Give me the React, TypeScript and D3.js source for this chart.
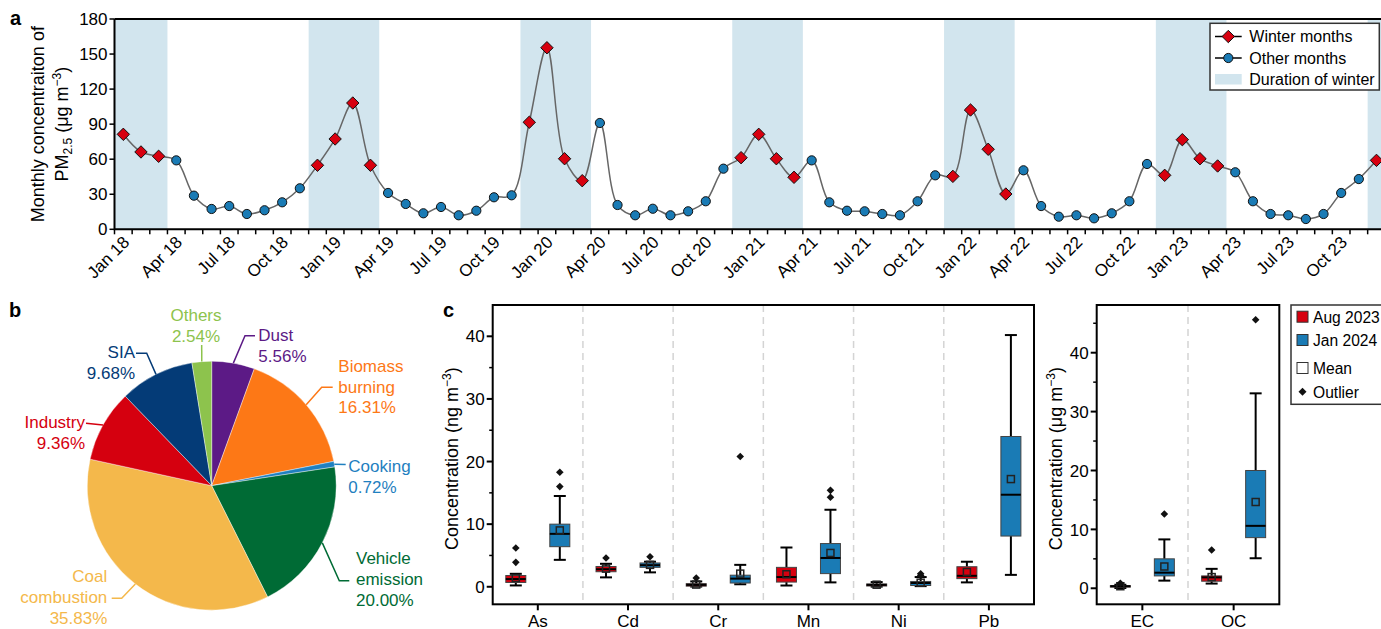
import * as d3 from "d3";

const FONT = "'Liberation Sans', Arial, Helvetica, sans-serif";

// ---------- panel a: monthly PM2.5 ----------
const monthNames = ["Jan", "Feb", "Mar", "Apr", "May", "Jun", "Jul", "Aug", "Sep", "Oct", "Nov", "Dec"];
const yearLabels = ["18", "19", "20", "21", "22", "23"];
const winterMonths = ["Dec", "Jan", "Feb", "Mar"];
const labelMonths = ["Jan", "Apr", "Jul", "Oct"];
const pm25 = [
  81.3, 66.2, 62.5, 59.0, 28.8, 17.4, 19.9, 13.1, 16.3, 23.1, 35.1, 54.8,
  77.3, 108.1, 54.8, 31.1, 21.7, 13.7, 19.1, 12.0, 15.9, 27.4, 29.1, 91.6,
  155.4, 60.4, 41.6, 91.0, 20.8, 12.0, 17.6, 12.0, 15.4, 24.0, 51.9, 61.3,
  81.3, 60.4, 44.5, 59.0, 23.1, 15.9, 15.4, 13.1, 12.0, 24.0, 46.2, 45.3,
  102.1, 68.5, 30.2, 50.5, 19.9, 10.8, 12.0, 9.4, 13.7, 24.0, 55.9, 46.2,
  76.7, 60.4, 54.2, 48.8, 24.0, 13.1, 12.0, 8.8, 13.1, 31.1, 43.0, 59.0,
];
const pmTicks = [0, 30, 60, 90, 120, 150, 180];

// ---------- panel b: source apportionment ----------
const sourceNames = ["Dust", "Biomass burning", "Cooking", "Vehicle emission", "Coal combustion", "Industry", "SIA", "Others"];
const sourceShares = [5.56, 16.31, 0.72, 20.0, 35.83, 9.36, 9.68, 2.54];
const sourceColors = ["#5c1a86", "#fd7816", "#1f80c0", "#006b35", "#f4b84b", "#d5000f", "#043b77", "#8dc34d"];

// ---------- panel c: box plots ----------
const metalCats = ["As", "Cd", "Cr", "Mn", "Ni", "Pb"];
const metalsAug = [
  { lo: 0.21, q1: 0.69, med: 1.23, q3: 1.8, hi: 2.07, mean: 1.4, out: [3.9, 6.2] },
  { lo: 1.5, q1: 2.4, med: 2.8, q3: 3.24, hi: 3.67, mean: 2.9, out: [4.6] },
  { lo: 0.03, q1: 0.1, med: 0.3, q3: 0.5, hi: 0.85, mean: 0.35, out: [1.4] },
  { lo: 0.2, q1: 0.75, med: 1.55, q3: 3.1, hi: 6.27, mean: 2.0, out: [] },
  { lo: 0.02, q1: 0.12, med: 0.3, q3: 0.45, hi: 0.75, mean: 0.33, out: [] },
  { lo: 0.7, q1: 1.3, med: 1.75, q3: 3.2, hi: 4.0, mean: 2.35, out: [] },
];
const metalsJan = [
  { lo: 4.3, q1: 6.4, med: 8.45, q3: 10.0, hi: 14.5, mean: 9.0, out: [16.0, 18.3] },
  { lo: 2.3, q1: 3.1, med: 3.45, q3: 3.8, hi: 4.0, mean: 3.5, out: [4.8] },
  { lo: 0.4, q1: 0.6, med: 1.3, q3: 1.85, hi: 3.5, mean: 2.1, out: [20.8] },
  { lo: 0.7, q1: 2.1, med: 4.6, q3: 6.9, hi: 12.3, mean: 5.4, out: [14.3, 15.4] },
  { lo: 0.1, q1: 0.2, med: 0.6, q3: 0.85, hi: 1.55, mean: 0.65, out: [1.8, 2.07] },
  { lo: 1.9, q1: 8.1, med: 14.7, q3: 24.0, hi: 40.2, mean: 17.2, out: [] },
];
const carbonCats = ["EC", "OC"];
const carbonAug = [
  { lo: 0.05, q1: 0.2, med: 0.35, q3: 0.45, hi: 0.6, mean: 0.35, out: [0.85] },
  { lo: 0.8, q1: 1.2, med: 1.85, q3: 2.1, hi: 3.3, mean: 1.9, out: [6.5] },
];
const carbonJan = [
  { lo: 1.3, q1: 2.1, med: 2.65, q3: 5.0, hi: 8.3, mean: 3.7, out: [12.6] },
  { lo: 5.1, q1: 8.6, med: 10.6, q3: 20.0, hi: 33.1, mean: 14.65, out: [45.6] },
];
const RED = "#d7000f";
const BLUE = "#1a7bb5";
const WINTER_BG = "#d2e5ee";

const months = yearLabels.flatMap((y) => monthNames.map((m) => `${m} ${y}`));
const isWinter = (i: number) => winterMonths.includes(months[i].split(" ")[0]);

const winterRuns: number[][] = [];
months.forEach((_, i) => {
  if (!isWinter(i)) return;
  const last = winterRuns[winterRuns.length - 1];
  if (last && last[1] === i - 1) last[1] = i;
  else winterRuns.push([i, i]);
});

const diamond = (cx: number, cy: number, s: number) =>
  `M${cx},${cy - s}L${cx + s},${cy}L${cx},${cy + s}L${cx - s},${cy}Z`;

function PanelA() {
  const L = 114.5, R = 1385.3, T = 19, B = 229.3;
  const x = d3.scaleLinear().domain([-0.5, pm25.length - 0.5]).range([L, R]);
  const y = d3.scaleLinear().domain([0, 180]).range([B, T]);
  const line = d3
    .line<number>()
    .x((_, i) => x(i))
    .y((d) => y(d))
    .curve(d3.curveCatmullRom.alpha(0.5));

  return (
    <g>
      <text x={10} y={25} fontSize={20} fontWeight="bold">a</text>
      {winterRuns.map(([a, b]) => (
        <rect key={a} x={x(a - 0.5)} y={T} width={x(b + 0.5) - x(a - 0.5)} height={B - T} fill={WINTER_BG} />
      ))}
      <path d={line(pm25) || ""} fill="none" stroke="#666" strokeWidth={1.5} />
      {pm25.map((v, i) =>
        isWinter(i) ? (
          <path key={i} d={diamond(x(i), y(v), 6.2)} fill={RED} stroke="#111" strokeWidth={1} />
        ) : (
          <circle key={i} cx={x(i)} cy={y(v)} r={4.6} fill={BLUE} stroke="#111" strokeWidth={1} />
        )
      )}
      {/* axes */}
      {d3.range(0, pm25.length + 1).map((k) => (
        <line key={k} x1={x(k - 0.5)} x2={x(k - 0.5)} y1={B} y2={B + 5} stroke="#000" strokeWidth={1.5} />
      ))}
      {months.map((m, i) =>
        labelMonths.includes(m.split(" ")[0]) ? (
          <text
            key={m}
            transform={`translate(${x(i) + 7},${B + 14}) rotate(-45)`}
            textAnchor="end"
            fontSize={17}
          >
            {m}
          </text>
        ) : null
      )}
      {pmTicks.map((t) => (
        <g key={t}>
          <line x1={L - 5} x2={L} y1={y(t)} y2={y(t)} stroke="#000" strokeWidth={1.5} />
          <text x={L - 7} y={y(t)} dy="0.36em" textAnchor="end" fontSize={17}>{t}</text>
        </g>
      ))}
      <path d={`M${L},${T}V${B}H${R}M${L},${T}H${R}`} fill="none" stroke="#000" strokeWidth={2} />
      <text transform={`translate(43.5,${(T + B) / 2}) rotate(-90)`} textAnchor="middle" fontSize={18}>
        Monthly concentraiton of
      </text>
      <text transform={`translate(68,${(T + B) / 2}) rotate(-90)`} textAnchor="middle" fontSize={18}>
        PM<tspan dy={4} fontSize={12}>2.5</tspan>
        <tspan dy={-4}> (μg m</tspan>
        <tspan dy={-7} fontSize={12}>−3</tspan>
        <tspan dy={7}>)</tspan>
      </text>
      {/* legend */}
      <rect x={1210} y={23.3} width={169.3} height={66.7} fill="#fff" stroke="#333" strokeWidth={1.5} />
      <line x1={1215} x2={1241.7} y1={36.5} y2={36.5} stroke="#000" strokeWidth={1.5} />
      <path d={diamond(1228.3, 36.5, 6.2)} fill={RED} stroke="#111" strokeWidth={1} />
      <text x={1249.3} y={42} fontSize={16}>Winter months</text>
      <line x1={1215} x2={1241.7} y1={58} y2={58} stroke="#000" strokeWidth={1.5} />
      <circle cx={1228.3} cy={58} r={4.6} fill={BLUE} stroke="#111" strokeWidth={1} />
      <text x={1249.3} y={63.5} fontSize={16}>Other months</text>
      <rect x={1215} y={74} width={26.7} height={10.5} fill={WINTER_BG} />
      <text x={1249.3} y={84.5} fontSize={16}>Duration of winter</text>
    </g>
  );
}

const pieLayout = [
  { path: [[245, 335.7], [255, 335.7]], anchor: "start", tx: 258.3, ty: 341 },
  { path: [[321.7, 387.3], [332.7, 387.3]], anchor: "start", tx: 338.3, ty: 371.7 },
  { path: [[345.7, 464.5]], anchor: "start", tx: 348.3, ty: 471.7 },
  { path: [[339.3, 580.7], [349.3, 580.7]], anchor: "start", tx: 356, ty: 564 },
  { path: [[121.7, 598.3], [111.7, 598.3]], anchor: "end", tx: 107.3, ty: 582.3 },
  { path: [[86, 423.3]], anchor: "end", tx: 85, ty: 427.7 },
  { path: [[146.7, 353.3], [136, 353.3]], anchor: "end", tx: 135, ty: 358.3 },
  { path: [[201.7, 345]], anchor: "middle", tx: 196, ty: 320.7 },
];

function PanelB() {
  const cx = 211.7, cy = 485.7, r = 124.5;
  const arcs = d3.pie<number>().sort(null).value((d) => d)(sourceShares);
  const arc = d3.arc<d3.PieArcDatum<number>>().innerRadius(0).outerRadius(r);
  return (
    <g>
      <text x={9} y={316.7} fontSize={20} fontWeight="bold">b</text>
      <g transform={`translate(${cx},${cy})`}>
        {arcs.map((a, i) => (
          <path key={i} d={arc(a) || ""} fill={sourceColors[i]} stroke="#fff" strokeWidth={0.4} />
        ))}
      </g>
      {arcs.map((a, i) => {
        const mid = (a.startAngle + a.endAngle) / 2;
        const ex = cx + r * Math.sin(mid);
        const ey = cy - r * Math.cos(mid);
        const lay = pieLayout[i];
        const pts = [[ex, ey], ...lay.path];
        const lines = [...sourceNames[i].split(" "), sourceShares[i].toFixed(2) + "%"];
        return (
          <g key={i}>
            <polyline points={pts.map((p) => p.join(",")).join(" ")} fill="none" stroke={sourceColors[i]} strokeWidth={1.5} />
            {lines.map((t, j) => (
              <text
                key={j}
                x={lay.tx}
                y={lay.ty + j * 20.8}
                textAnchor={lay.anchor as any}
                fontSize={17}
                fill={sourceColors[i]}
              >
                {t}
              </text>
            ))}
          </g>
        );
      })}
    </g>
  );
}

type Box = { lo: number; q1: number; med: number; q3: number; hi: number; mean: number; out: number[] };

function BoxPanel(props: {
  cats: string[];
  aug: Box[];
  jan: Box[];
  x0: number;
  x1: number;
  yDomain: [number, number];
  minor: number[];
  titleX: number;
  unit: string;
}) {
  const { cats, aug, jan, x0, x1, yDomain, minor, titleX, unit } = props;
  const T = 305, B = 604.3;
  const x = d3.scaleBand().domain(cats).range([x0, x1]);
  const y = d3.scaleLinear().domain(yDomain).range([B, T]);
  const bw = 20, cap = 12, off = 22;
  const majors = [0, 10, 20, 30, 40];

  const drawBox = (b: Box, cxp: number, fill: string, key: string) => (
    <g key={key}>
      <line x1={cxp} x2={cxp} y1={y(b.hi)} y2={y(b.q3)} stroke="#000" strokeWidth={2} />
      <line x1={cxp} x2={cxp} y1={y(b.q1)} y2={y(b.lo)} stroke="#000" strokeWidth={2} />
      <line x1={cxp - cap / 2} x2={cxp + cap / 2} y1={y(b.hi)} y2={y(b.hi)} stroke="#000" strokeWidth={2} />
      <line x1={cxp - cap / 2} x2={cxp + cap / 2} y1={y(b.lo)} y2={y(b.lo)} stroke="#000" strokeWidth={2} />
      <rect x={cxp - bw / 2} y={y(b.q3)} width={bw} height={Math.max(y(b.q1) - y(b.q3), 1)} fill={fill} stroke="#444" strokeWidth={1} />
      <line x1={cxp - bw / 2} x2={cxp + bw / 2} y1={y(b.med)} y2={y(b.med)} stroke="#000" strokeWidth={2} />
      <rect x={cxp - 3.5} y={y(b.mean) - 3.5} width={7} height={7} fill="none" stroke="#222" strokeWidth={1.5} />
      {b.out.map((o, k) => (
        <path key={k} d={diamond(cxp, y(o), 3.8)} fill="#111" />
      ))}
    </g>
  );

  return (
    <g>
      {cats.slice(1).map((c) => (
        <line key={c} x1={x(c)!} x2={x(c)!} y1={T} y2={B} stroke="#d4d4d4" strokeWidth={1.5} strokeDasharray="7,5" />
      ))}
      {cats.map((c, i) => {
        const cc = x(c)! + x.bandwidth() / 2;
        return (
          <g key={c}>
            {drawBox(aug[i], cc - off, RED, "a")}
            {drawBox(jan[i], cc + off, BLUE, "j")}
            <line x1={cc} x2={cc} y1={B} y2={B + 6} stroke="#000" strokeWidth={2} />
            <text x={cc} y={626.5} textAnchor="middle" fontSize={17}>{c}</text>
          </g>
        );
      })}
      {majors.map((t) => (
        <g key={t}>
          <line x1={x0 - 6} x2={x0} y1={y(t)} y2={y(t)} stroke="#000" strokeWidth={2} />
          <text x={x0 - 8} y={y(t)} dy="0.36em" textAnchor="end" fontSize={17}>{t}</text>
        </g>
      ))}
      {minor.map((t) => (
        <line key={t} x1={x0 - 3.5} x2={x0} y1={y(t)} y2={y(t)} stroke="#000" strokeWidth={1.5} />
      ))}
      <rect x={x0} y={T} width={x1 - x0} height={B - T} fill="none" stroke="#000" strokeWidth={2} />
      <text transform={`translate(${titleX},${(T + B) / 2 + 4}) rotate(-90)`} textAnchor="middle" fontSize={18}>
        Concentration ({unit} m<tspan dy={-7} fontSize={12}>−3</tspan>
        <tspan dy={7}>)</tspan>
      </text>
    </g>
  );
}

function LegendC() {
  return (
    <g fontSize={15.6}>
      <rect x={1291} y={305} width={100} height={99.3} fill="#fff" stroke="#333" strokeWidth={1.5} />
      <rect x={1297} y={311.2} width={11} height={11} fill={RED} stroke="#333" strokeWidth={1} />
      <text x={1313} y={322.5}>Aug 2023</text>
      <rect x={1297} y={334.5} width={11} height={11} fill={BLUE} stroke="#333" strokeWidth={1} />
      <text x={1313} y={345.8}>Jan 2024</text>
      <rect x={1297} y={362.5} width={11} height={11} fill="#fff" stroke="#333" strokeWidth={1} />
      <text x={1313} y={373.8}>Mean</text>
      <path d={diamond(1302.5, 391.7, 4)} fill="#111" />
      <text x={1313} y={397.5}>Outlier</text>
    </g>
  );
}

export default function App() {
  return (
    <svg
      width={1381}
      height={629}
      style={{ position: "absolute", left: 0, top: 0, fontFamily: FONT }}
    >
      <rect width={1381} height={629} fill="#fff" />
      <PanelA />
      <PanelB />
      <text x={443} y={317} fontSize={20} fontWeight="bold">c</text>
      <BoxPanel
        cats={metalCats}
        aug={metalsAug}
        jan={metalsJan}
        x0={492.7}
        x1={1034}
        yDomain={[-2.8, 45]}
        minor={[5, 15, 25, 35]}
        titleX={458}
        unit="ng"
      />
      <BoxPanel
        cats={carbonCats}
        aug={carbonAug}
        jan={carbonJan}
        x0={1096.7}
        x1={1279.3}
        yDomain={[-2.72, 48.1]}
        minor={[5, 15, 25, 35, 45]}
        titleX={1062}
        unit="μg"
      />
      <LegendC />
    </svg>
  );
}
